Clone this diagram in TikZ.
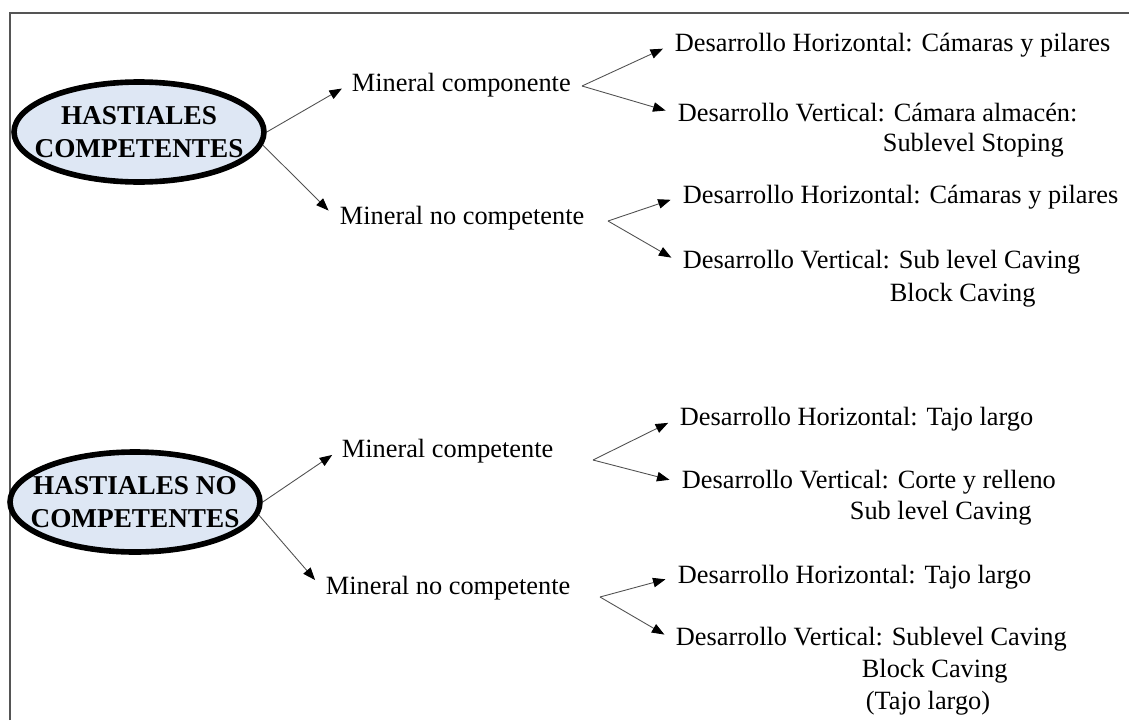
\documentclass[tikz,border=0pt]{standalone}
\usepackage{fontspec}
\setmainfont{Liberation Serif}
\usetikzlibrary{arrows.meta,shapes.geometric}
\definecolor{ellblue}{RGB}{222,231,244}
\definecolor{framegray}{RGB}{85,85,85}
\definecolor{arrgray}{RGB}{80,80,80}
\newcommand{\ctline}[1]{\makebox[0pt]{#1}}
\tikzset{
  hastbox/.style={ellipse, draw, line width=3.2pt, fill=ellblue,
                  minimum width=5cm, minimum height=2cm, inner sep=0pt,
                  align=center, font=\fontsize{15.5}{18.5}\selectfont\bfseries},
  txt/.style    ={anchor=west, inner sep=2pt,
                  font=\fontsize{15}{18}\selectfont},
  arr/.style    ={-{Triangle[length=0.25cm, width=0.19cm, color=black]},
                  draw=arrgray, line width=0.5pt},
  barr/.style   ={arr, shorten >=5pt},
}

\begin{document}
\begin{tikzpicture}[x=0.02cm, y=-0.02cm]
  \useasboundingbox (0,0) rectangle (1129,720);
  \draw[framegray, line width=1.1pt] (10,720) -- (10,13) -- (1129,13);

  % hastiales
  \node[hastbox] (hc) at (139,132) {\ctline{HASTIALES}\\\ctline{COMPETENTES}};
  \node[hastbox] (hn) at (135,502) {\ctline{HASTIALES NO}\\\ctline{COMPETENTES}};

  % mineral
  \node[txt] (mc1) at (348,85)  {Mineral componente};
  \node[txt] (mn1) at (336,218) {Mineral no competente};
  \node[txt] (mc2) at (338,451) {Mineral competente};
  \node[txt] (mn2) at (322,588) {Mineral no competente};

  % metodos
  \node[txt] (hc1)  at (671,45)  {Desarrollo Horizontal: Cámaras y pilares};
  \node[txt] (vc1)  at (674,113) {Desarrollo Vertical: Cámara almacén:};
  \node[txt] (vc1b) at (879,145) {Sublevel Stoping};
  \node[txt] (hn1)  at (679,197) {Desarrollo Horizontal: Cámaras y pilares};
  \node[txt] (vn1)  at (679,262) {Desarrollo Vertical: Sub level Caving};
  \node[txt] (vn1b) at (886,295) {Block Caving};
  \node[txt] (hc2)  at (676,419) {Desarrollo Horizontal: Tajo largo};
  \node[txt] (vc2)  at (678,482) {Desarrollo Vertical: Corte y relleno};
  \node[txt] (vc2b) at (846,513) {Sub level Caving};
  \node[txt] (hn2)  at (674,577) {Desarrollo Horizontal: Tajo largo};
  \node[txt] (vn2)  at (672,639) {Desarrollo Vertical: Sublevel Caving};
  \node[txt] (vn2b) at (858,671) {Block Caving};
  \node[txt] (vn2c) at (862,703) {(Tajo largo)};

  \coordinate (bc1) at (582,86);
  \coordinate (bn1) at (608,221);
  \coordinate (bc2) at (593,460);
  \coordinate (bn2) at (600,597);

  \draw[arr, shorten >=4pt] (hc.east) -- (mc1.west);
  \draw[arr, shorten >=6pt] (hc.-6) -- (mn1.west);
  \draw[arr, shorten >=4pt] (hn.east) -- (mc2.west);
  \draw[arr, shorten >=6pt] (hn.-6) -- (mn2.west);

  \draw[barr] (bc1) -- (hc1.west);
  \draw[barr] (bc1) -- (vc1.west);
  \draw[barr] (bn1) -- (hn1.west);
  \draw[barr] (bn1) -- (vn1.west);
  \draw[barr] (bc2) -- (hc2.west);
  \draw[barr] (bc2) -- (vc2.west);
  \draw[barr] (bn2) -- (hn2.west);
  \draw[barr] (bn2) -- (vn2.west);
\end{tikzpicture}
\end{document}
